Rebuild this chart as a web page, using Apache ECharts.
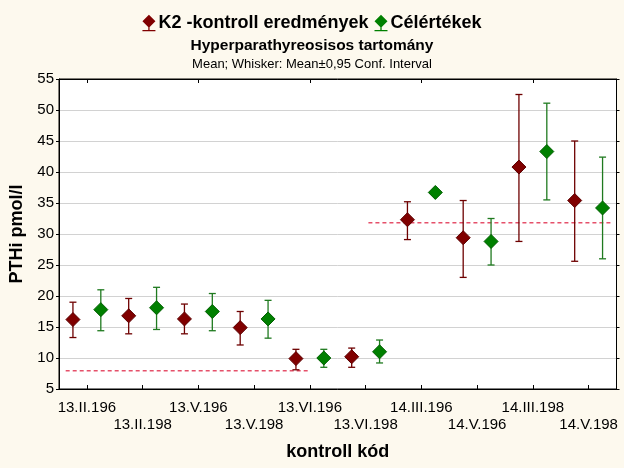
<!DOCTYPE html>
<html>
<head>
<meta charset="utf-8">
<script src="https://cdn.jsdelivr.net/npm/echarts@6/dist/echarts.min.js"></script>
<style>
html,body{margin:0;padding:0;background:#fdf9ee;}
#c{width:624px;height:468px;}
</style>
</head>
<body>
<div id="c"></div>
<script>
const categories = ['13.II.196','13.II.198','13.V.196','13.V.198','13.VI.196','13.VI.198','14.III.196','14.V.196','14.III.198','14.V.198'];
const k2Mean = [16.2, 16.8, 16.3, 14.9, 9.9, 10.2, 32.3, 29.4, 40.8, 35.4];
const k2Low  = [13.3, 13.9, 13.9, 12.1, 8.1, 8.5, 29.1, 23.0, 28.8, 25.6];
const k2High = [19.0, 19.6, 18.7, 17.5, 11.4, 11.6, 35.2, 35.4, 52.5, 45.0];
const celMean = [17.8, 18.1, 17.5, 16.3, 10.0, 11.0, 36.7, 28.8, 43.3, 34.2];
const celLow  = [14.4, 14.6, 14.4, 13.2, 8.5, 9.2, null, 25.0, 35.5, 26.0];
const celHigh = [21.0, 21.4, 20.4, 19.3, 11.4, 12.9, null, 32.5, 51.1, 42.4];
const refStartX = [0.12, 5.55];
const refEndX = [4.48, 9.9];
const refY = [7.95, 31.8];
const yTicks = [5,10,15,20,25,30,35,40,45,50,55];

const FONT = 'Arial, "Liberation Sans", sans-serif';

function makeRender(mean, low, high, fill, stroke, whisk, dir) {
  return function (params, api) {
    const i = params.dataIndex;
    const bw = api.size([1, 0])[0];
    const c = api.coord([i, mean[i]]);
    const x = c[0] + dir * bw * 0.25;
    const y = c[1];
    const children = [];
    if (low[i] != null && high[i] != null) {
      const yl = api.coord([i, low[i]])[1];
      const yh = api.coord([i, high[i]])[1];
      const lw = 1.3;
      children.push({type:'line', shape:{x1:x, y1:yh, x2:x, y2:yl}, style:{stroke:whisk, lineWidth:lw}});
      children.push({type:'line', shape:{x1:x-3.5, y1:yh, x2:x+3.5, y2:yh}, style:{stroke:whisk, lineWidth:lw}});
      children.push({type:'line', shape:{x1:x-3.5, y1:yl, x2:x+3.5, y2:yl}, style:{stroke:whisk, lineWidth:lw}});
    }
    const r = 7;
    children.push({type:'polygon', shape:{points:[[x, y-r],[x+r, y],[x, y+r],[x-r, y]]}, style:{fill:fill, stroke:stroke, lineWidth:1}});
    return {type:'group', children: children};
  };
}

const chart = echarts.init(document.getElementById('c'), null, {renderer:'canvas'});
const legendIcon = 'path://M6,0 L12,6 L6,12 L0,6 Z M0,14.2 L12,14.2 L12,15.4 L0,15.4 Z M5.4,11 L6.6,11 L6.6,14.5 L5.4,14.5 Z';

chart.setOption({
  backgroundColor: '#fdf9ee',
  animation: false,
  title: [
    {text:'Hyperparathyreosisos tartomány', left:'center', top:33, textStyle:{fontFamily:FONT, fontSize:15.5, fontWeight:'bold', color:'#000'}},
    {text:'Mean; Whisker: Mean±0,95 Conf. Interval', left:'center', top:53, textStyle:{fontFamily:FONT, fontSize:13, fontWeight:'normal', color:'#000'}}
  ],
  legend: {
    data: ['K2 -kontroll eredmények', 'Célértékek'],
    top: 9, left: 'center',
    itemWidth: 13, itemHeight: 17, itemGap: 6,
    textStyle: {fontFamily:FONT, fontSize:18, fontWeight:'bold', color:'#000', padding:[0,0,0,-2]},
    icon: legendIcon
  },
  grid: {left:59, top:79, width:557.5, height:310, show:true, backgroundColor:'#fff', borderColor:'#000', borderWidth:1},
  xAxis: [
    {
      type:'category', data:categories, boundaryGap:true, position:'bottom',
      axisLine:{show:true, lineStyle:{color:'#000'}},
      axisTick:{show:true, inside:true, length:4, alignWithLabel:true, lineStyle:{color:'#000'}},
      axisLabel:{fontFamily:FONT, fontSize:15, color:'#000', margin:10, lineHeight:17, interval:0,
        formatter:function(v, idx){ return idx % 2 ? '\n' + v : v; }},
      splitLine:{show:false},
      name:'kontroll kód', nameLocation:'middle', nameGap:54,
      nameTextStyle:{fontFamily:FONT, fontSize:18, fontWeight:'bold', color:'#000'}
    },
    {type:'value', min:0, max:10, show:false},
    {
      type:'category', data:categories, boundaryGap:true, position:'top',
      axisLine:{show:true, lineStyle:{color:'#000'}},
      axisTick:{show:true, inside:true, length:4, alignWithLabel:true, lineStyle:{color:'#000'}},
      axisLabel:{show:false}, splitLine:{show:false}
    }
  ],
  yAxis: [
    {
      type:'value', min:5, max:55, interval:5, position:'left',
      axisLine:{show:true, lineStyle:{color:'#000'}},
      axisTick:{show:true, inside:false, length:3, lineStyle:{color:'#000'}},
      axisLabel:{fontFamily:FONT, fontSize:15, color:'#000', margin:5,
        formatter:function(v){ return yTicks.indexOf(v) >= 0 ? String(v) : ''; }},
      splitLine:{show:true, lineStyle:{color:'#d2d2d2', width:1}},
      name:'PTHi pmol/l', nameLocation:'middle', nameGap:33,
      nameTextStyle:{fontFamily:FONT, fontSize:18, fontWeight:'bold', color:'#000'}
    },
    {
      type:'value', min:5, max:55, interval:5, position:'right',
      axisLine:{show:true, lineStyle:{color:'#000'}},
      axisTick:{show:true, inside:false, length:3, lineStyle:{color:'#000'}},
      axisLabel:{show:false}, splitLine:{show:false}
    }
  ],
  series: [
    {
      name:'ref1', type:'line', xAxisIndex:1, yAxisIndex:0, symbol:'none', silent:true,
      data:[[refStartX[0], refY[0]], [refEndX[0], refY[0]]],
      lineStyle:{color:'#e5506a', width:1.5, type:[4,3]}, z:3
    },
    {
      name:'ref2', type:'line', xAxisIndex:1, yAxisIndex:0, symbol:'none', silent:true,
      data:[[refStartX[1], refY[1]], [refEndX[1], refY[1]]],
      lineStyle:{color:'#e5506a', width:1.5, type:[4,3]}, z:3
    },
    {
      name:'K2 -kontroll eredmények', type:'custom', xAxisIndex:0, yAxisIndex:0,
      itemStyle:{color:'#800000'},
      renderItem: makeRender(k2Mean, k2Low, k2High, '#800000', '#5c0000', '#6e0000', -1),
      data: k2Mean.map(function(v, i){ return [i, v]; }), z:5
    },
    {
      name:'Célértékek', type:'custom', xAxisIndex:0, yAxisIndex:0,
      itemStyle:{color:'#008000'},
      renderItem: makeRender(celMean, celLow, celHigh, '#008000', '#005f00', '#1f7a1f', 1),
      data: celMean.map(function(v, i){ return [i, v]; }), z:5
    }
  ]
});
</script>
</body>
</html>
